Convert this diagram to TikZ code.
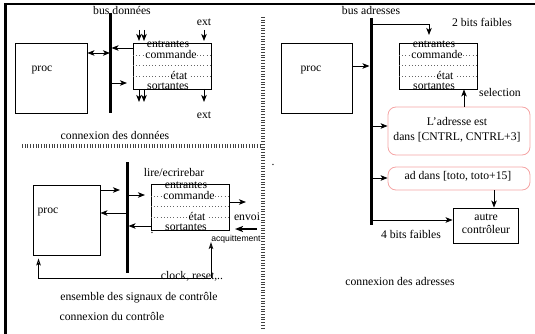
\documentclass[tikz,border=0pt]{standalone}
\usepackage{fontspec}
\setmainfont{Liberation Serif}
\newfontfamily\helv{Liberation Sans}
\usetikzlibrary{arrows.meta,calc}
\definecolor{pinkline}{RGB}{245,165,165}
\begin{document}
\begin{tikzpicture}[x=1pt,y=-1pt,
  font=\fontsize{11.7}{13.5}\selectfont,
  box/.style={draw, line width=0.9pt, inner sep=0pt},
  bus/.style={line width=3pt},
  tip/.tip={Stealth[length=7pt,width=5.5pt,inset=1.8pt]},
  arr/.style={line width=0.9pt, -tip},
  darr/.style={line width=0.9pt, tip-tip},
  oarr/.style={line width=0.9pt, -{Stealth[open,length=7pt,width=4.5pt,inset=1.5pt]}},
  sep/.style={line width=4pt, dash pattern=on 1pt off 1.7pt, black!75},
  dots/.style={line width=0.8pt, dash pattern=on 0.8pt off 2.4pt, black!60},
  pinkbox/.style={draw=pinkline, line width=0.8pt, rounded corners=8pt, inner sep=0pt},
  lbl/.style={inner sep=0pt},
  ctrl/.pic={
    \node[box, minimum width=78, minimum height=46] (-b) at (0,0) {};
    \draw[dots] (-39,-11) -- (39,-11);
    \draw[dots] (-39,-1) -- (39,-1);
    \draw[dots] (-39,10) -- (39,10);
    \node[lbl] (-en) at (-4,-22) {entrantes};
    \node[lbl, fill=white, inner sep=0.5pt] (-co) at (-1,-12) {commande};
    \node[lbl, fill=white, inner sep=0.5pt] (-et) at (7,9) {état};
    \node[lbl] (-so) at (-4,20) {sortantes};
  }]
\useasboundingbox (0,0) rectangle (535,334);

% frame
\draw[line width=2.2pt] (5.5,334) -- (5.5,4) -- (535,4);

% separators
\draw[sep] (263,17) -- (263,330);
\draw[sep] (22,146) -- (262,146);

% ---------- data connection ----------
\coordinate (bd1) at (110,13);
\coordinate (bd2) at (110,113);
\draw[bus] (bd1) -- (bd2);
\node[lbl] (bdl) at (122,10) {bus données};
\node[box, minimum width=72, minimum height=70] (p1) at (51,78) {};
\node[lbl] (p1t) at (42,70) {proc};
\pic (c1) at (172,66) {ctrl};
\draw[darr] (p1.east |- 0,53) -- (bd1 |- 0,53);
\draw[arr] (c1-b.west |- 0,48) -- ([xshift=1.5pt]bd1 |- 0,48);
\draw[arr] ([xshift=1.5pt]bd1 |- 0,83) -- (127,83);
\node[lbl] (ext1) at (204,22) {ext};
\node[lbl] (ext2) at (204,115) {ext};
\draw[arr] (139,30) -- (139,41);
\draw[arr] (144,30) -- (144,41);
\draw[arr] (ext1.south |- 0,30) -- (ext1.south |- 0,41);
\draw[arr] (139,89) -- (139,102);
\draw[arr] (144,89) -- (144,102);
\draw[arr] (ext2.north |- 0,89) -- (ext2.north |- 0,102);
\node[lbl] (t1) at (115,135) {connexion des données};

% ---------- address connection ----------
\coordinate (ba1) at (371,18);
\coordinate (ba2) at (371,225);
\draw[bus] (ba1) -- (ba2);
\node[lbl] (bal) at (371,10) {bus adresses};
\node[box, minimum width=71, minimum height=70] (p2) at (316.5,78) {};
\node[lbl] (p2t) at (311,70) {proc};
\pic (c2) at (438,66) {ctrl};
\draw[arr] (ba1 |- 0,24) -- (429,24) -- (429,35);
\node[lbl] (bf2) at (482,22) {2 bits faibles};
\draw[arr] (p2.east |- 0,66) -- ([xshift=-1.5pt]ba1 |- 0,66);
\node[pinkbox, minimum width=142, minimum height=48] (k1) at (459,131) {};
\node[lbl, align=center] (k1t) at (457,129.5) {L’adresse est\\[1.5pt]dans [CNTRL, CNTRL+3]};
\draw[arr] ([xshift=1.5pt]ba1 |- 0,126) -- (k1.west |- 0,126);
\draw[arr] (k1.north -| 464,0) -- (c2-b.south -| 464,0);
\node[lbl] (sel) at (500,92) {selection};
\node[pinkbox, minimum width=142, minimum height=23] (k2) at (459,178.5) {};
\node[lbl] (k2t) at (458,176) {ad dans [toto, toto+15]};
\draw[arr] ([xshift=1.5pt]ba1 |- 0,178) -- (k2.west |- 0,178);
\node[box, minimum width=65, minimum height=35] (ac) at (485.5,225.5) {};
\node[lbl, align=center] (act) at (486,224) {autre\\contrôleur};
\draw[arr] (k2.south -| 494,0) -- (ac.north -| 494,0);
\draw[arr] ([xshift=1.5pt]ba1 |- 0,220) -- (ac.west |- 0,220);
\node[lbl] (bf4) at (411,234) {4 bits faibles};
\node[lbl] (t2) at (400,281) {connexion des adresses};
\node[lbl] (pt1) at (273,165) {.};

% ---------- control connection ----------
\coordinate (bc1) at (127,162);
\coordinate (bc2) at (127,273);
\draw[bus] (bc1) -- (bc2);
\node[lbl] (bcl) at (174,172.5) {lire/ecrirebar};
\node[box, minimum width=67, minimum height=70] (p3) at (66.5,220) {};
\node[lbl] (p3t) at (48,212) {proc};
\pic (c3) at (190,207.5) {ctrl};
\draw[arr] (p3.east |- 0,190) -- (120,190);
\draw[arr] (bc1 |- 0,213) -- (p3.east |- 0,213);
\draw[arr] ([xshift=1.5pt]bc1 |- 0,195) -- (145,195);
\draw[arr] (c3-b.west |- 0,226) -- ([xshift=1.5pt]bc1 |- 0,226);
\draw[arr] (c3-b.east |- 0,202) -- (246,202);
\node[lbl] (env) at (247,217) {envoi};
\coordinate (aq) at (257,229);
\draw[line width=1.6pt, -{Stealth[length=8pt,width=6pt,inset=2pt]}] (aq) -- (235,229);
\node[lbl, font=\helv\fontsize{8.6}{10}\selectfont] (aqt) at (236,239) {acquittement};
\coordinate (ck) at (211,278);
\draw[oarr] (ck) -- (211,242);
\draw[oarr, shorten >=3pt] (ck) -| ([xshift=6pt]p3.south west);
\node[lbl] (ckt) at (192,276) {clock, reset,..};
\node[lbl] (pt2) at (152,233) {.};
\node[lbl] (t3) at (139,298) {ensemble des signaux de contrôle};
\node[lbl] (t4) at (112,316) {connexion du contrôle};
\end{tikzpicture}
\end{document}
